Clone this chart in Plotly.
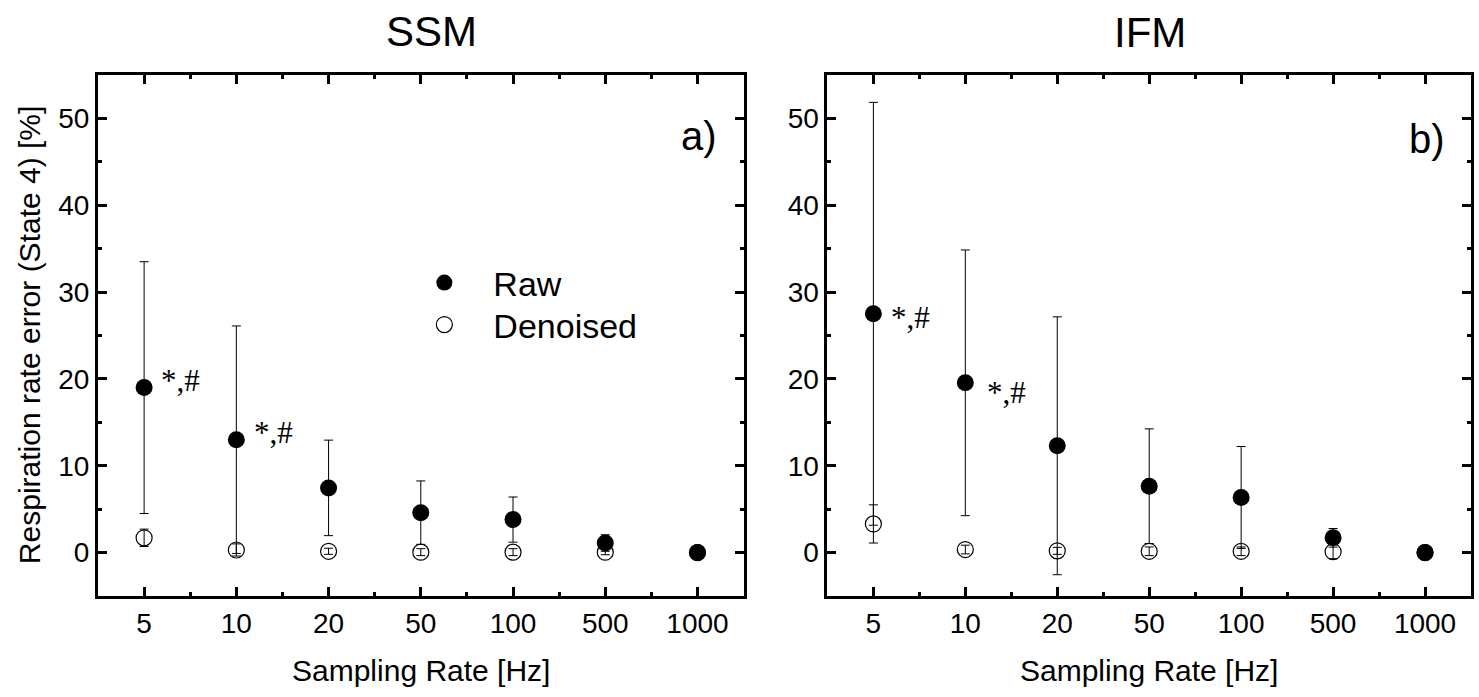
import plotly.graph_objects as go

# ---------------- data ----------------
categories = ["5", "10", "20", "50", "100", "500", "1000"]
x_idx = list(range(len(categories)))

ssm_raw = [19.0, 13.0, 7.45, 4.6, 3.8, 1.1, 0.0]
ssm_raw_sd = [14.5, 13.1, 5.5, 3.65, 2.6, 0.95, 0.0]
ssm_den = [1.7, 0.3, 0.15, 0.05, 0.05, 0.05, 0.0]
ssm_den_sd = [1.0, 0.7, 0.35, 0.4, 0.4, 0.3, 0.0]

ifm_raw = [27.5, 19.55, 12.3, 7.65, 6.35, 1.7, 0.0]
ifm_raw_sd = [24.35, 15.3, 14.85, 6.6, 5.87, 1.07, 0.0]
ifm_den = [3.3, 0.35, 0.2, 0.15, 0.15, 0.1, 0.0]
ifm_den_sd = [2.2, 0.5, 0.4, 0.5, 0.5, 0.8, 0.0]

sig_label = "*,#"
ssm_sig_idx = [0, 1]
ifm_sig_idx = [0, 1]

FONT = "Liberation Sans, Arial, sans-serif"
SERIF = "Liberation Serif, Times New Roman, serif"

W, H = 1479, 697
ML, MR, MT, MB = 98, 5, 75, 101
PW = W - ML - MR
PH = H - MT - MB


def px(xp):
    return (xp - ML) / PW


def py(yp):
    return (H - MB - yp) / PH


XRANGE = [-0.5, 6.5]
YRANGE = [-5, 55]
x_minor = [i + 0.5 for i in x_idx[:-1]]

fig = go.Figure()


def add_panel(raw, raw_sd, den, den_sd, xa, ya, tick_pairs, showlegend):
    fig.add_trace(go.Scatter(
        x=x_idx, y=den, mode="markers", name="Denoised",
        marker=dict(symbol="circle-open", size=16, color="black",
                    line=dict(width=1.2, color="black")),
        error_y=dict(type="data", array=den_sd, visible=True,
                     color="black", thickness=1, width=4.5),
        xaxis=xa, yaxis=ya, showlegend=showlegend, legend="legend2",
    ))
    fig.add_trace(go.Scatter(
        x=x_idx, y=raw, mode="markers", name="Raw",
        marker=dict(symbol="circle", size=17, color="black"),
        error_y=dict(type="data", array=raw_sd, visible=True,
                     color="black", thickness=1, width=4.5),
        xaxis=xa, yaxis=ya, showlegend=showlegend, legend="legend",
    ))
    # invisible copies on the minor-tick frame axes so that they are drawn
    for xm, ym in tick_pairs:
        fig.add_trace(go.Scatter(
            x=x_idx, y=raw, mode="markers", marker=dict(opacity=0),
            xaxis=xm, yaxis=ym, showlegend=False, hoverinfo="skip",
        ))


add_panel(ssm_raw, ssm_raw_sd, ssm_den, ssm_den_sd, "x", "y",
          [("x3", "y3"), ("x4", "y4")], True)
add_panel(ifm_raw, ifm_raw_sd, ifm_den, ifm_den_sd, "x2", "y2",
          [("x5", "y5"), ("x6", "y6")], False)

# main axes: frame line, labels, major ticks (mirrored)
xmain = dict(range=XRANGE, tickmode="array", tickvals=x_idx, ticktext=categories,
             ticks="inside", ticklen=9, tickwidth=3, tickcolor="black",
             showline=True, linewidth=3, linecolor="black", mirror="ticks",
             showgrid=False, zeroline=False,
             tickfont=dict(family=FONT, size=28, color="black"))
ymain = dict(range=YRANGE, tickmode="linear", tick0=0, dtick=10,
             ticks="inside", ticklen=9, tickwidth=3, tickcolor="black",
             showline=True, linewidth=3, linecolor="black", mirror="ticks",
             showgrid=False, zeroline=False,
             tickfont=dict(family=FONT, size=28, color="black"))

minorstyle = dict(ticks="inside", ticklen=4, tickwidth=3, tickcolor="black",
                  showgrid=False, zeroline=False, showticklabels=False, showline=False)


def xminor_ax(side, overlay, anchor, dom):
    return dict(range=XRANGE, tickmode="array", tickvals=x_minor, side=side,
                overlaying=overlay, anchor=anchor, domain=dom, **minorstyle)


def yminor_ax(side, overlay, anchor):
    return dict(range=YRANGE, tickmode="linear", tick0=5, dtick=10, side=side,
                overlaying=overlay, anchor=anchor, domain=[0, 1], **minorstyle)


d1 = [0, px(745)]
d2 = [px(829), 1]

fig.update_layout(
    width=W, height=H,
    margin=dict(l=ML, r=MR, t=MT, b=MB),
    paper_bgcolor="white", plot_bgcolor="white",
    font=dict(family=FONT, color="black"),
    xaxis=dict(domain=d1, anchor="y", **xmain),
    yaxis=dict(domain=[0, 1], anchor="x", **ymain),
    xaxis2=dict(domain=d2, anchor="y2", **xmain),
    yaxis2=dict(domain=[0, 1], anchor="x2", **ymain),
    xaxis3=xminor_ax("bottom", "x", "y", d1),
    yaxis3=yminor_ax("left", "y", "x"),
    xaxis4=xminor_ax("top", "x", "y", d1),
    yaxis4=yminor_ax("right", "y", "x"),
    xaxis5=xminor_ax("bottom", "x2", "y2", d2),
    yaxis5=yminor_ax("left", "y2", "x2"),
    xaxis6=xminor_ax("top", "x2", "y2", d2),
    yaxis6=yminor_ax("right", "y2", "x2"),
    legend=dict(x=px(396), y=py(283), xanchor="left", yanchor="middle",
                font=dict(family=FONT, size=34, color="black"),
                bgcolor="rgba(0,0,0,0)", itemwidth=88),
    legend2=dict(x=px(396), y=py(325), xanchor="left", yanchor="middle",
                 font=dict(family=FONT, size=34, color="black"),
                 bgcolor="rgba(0,0,0,0)", itemwidth=88),
)

ann = []
ann.append(dict(text="SSM", x=px(432), y=py(31), xref="paper", yref="paper",
                showarrow=False, font=dict(family=FONT, size=42), xanchor="center", yanchor="middle"))
ann.append(dict(text="IFM", x=px(1152), y=py(33), xref="paper", yref="paper",
                showarrow=False, font=dict(family=FONT, size=42), xanchor="center", yanchor="middle"))
ann.append(dict(text="a)", x=px(700), y=py(136), xref="paper", yref="paper",
                showarrow=False, font=dict(family=FONT, size=40), xanchor="center", yanchor="middle"))
ann.append(dict(text="b)", x=px(1430), y=py(139), xref="paper", yref="paper",
                showarrow=False, font=dict(family=FONT, size=40), xanchor="center", yanchor="middle"))
ann.append(dict(text="Sampling Rate [Hz]", x=px(421.5), y=py(670), xref="paper", yref="paper",
                showarrow=False, font=dict(family=FONT, size=30), xanchor="center", yanchor="middle"))
ann.append(dict(text="Sampling Rate [Hz]", x=px(1151.5), y=py(670), xref="paper", yref="paper",
                showarrow=False, font=dict(family=FONT, size=30), xanchor="center", yanchor="middle"))
ann.append(dict(text="Respiration rate error (State 4) [%]", x=px(29), y=py(335),
                xref="paper", yref="paper", textangle=-90,
                showarrow=False, font=dict(family=FONT, size=30), xanchor="center", yanchor="middle"))
ssm_shift = [(15, 7), (16, 7)]
ifm_shift = [(16, -4), (20, -10)]
for k, i in enumerate(ssm_sig_idx):
    ann.append(dict(text=sig_label, x=x_idx[i], y=ssm_raw[i], xref="x", yref="y",
                    xshift=ssm_shift[k][0], yshift=ssm_shift[k][1], showarrow=False,
                    xanchor="left", yanchor="middle", font=dict(family=SERIF, size=31)))
for k, i in enumerate(ifm_sig_idx):
    ann.append(dict(text=sig_label, x=x_idx[i], y=ifm_raw[i], xref="x2", yref="y2",
                    xshift=ifm_shift[k][0], yshift=ifm_shift[k][1], showarrow=False,
                    xanchor="left", yanchor="middle", font=dict(family=SERIF, size=31)))

fig.update_layout(annotations=ann)
fig.write_html("out.html", config={"displayModeBar": False},
               post_script="document.body.style.margin='0';document.body.style.overflow='hidden';")
